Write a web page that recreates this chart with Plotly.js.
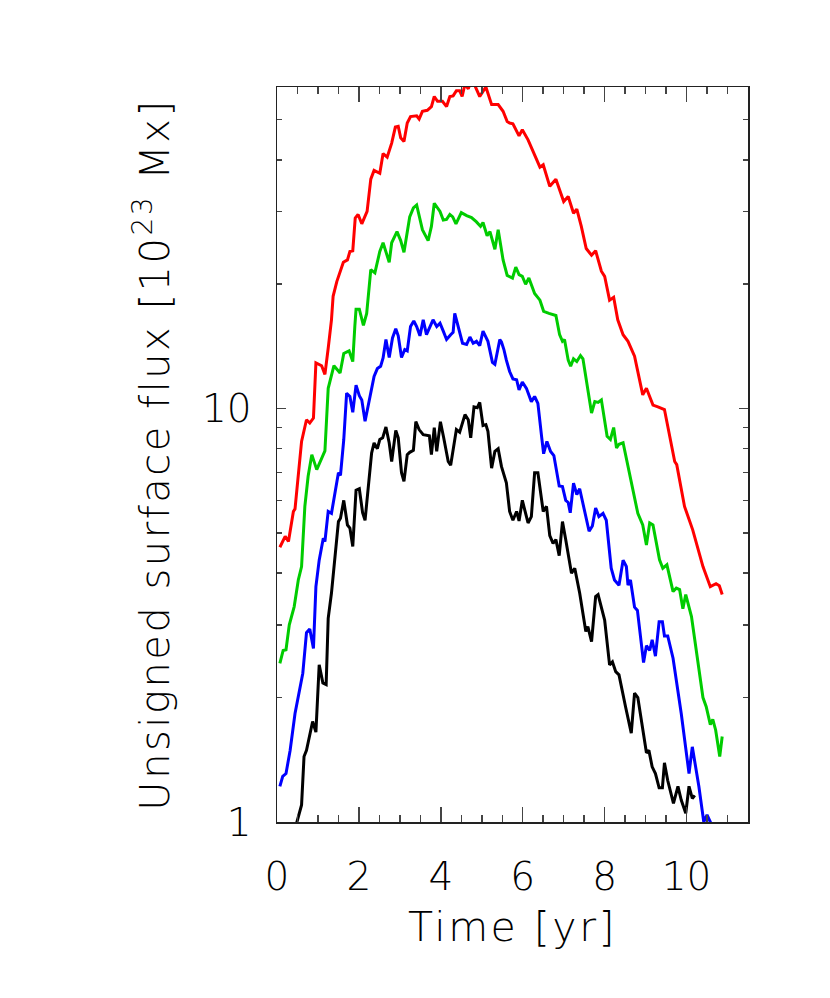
<!DOCTYPE html>
<html>
<head>
<meta charset="utf-8">
<script src="https://cdn.plot.ly/plotly-3.0.1.min.js"></script>
<style>
  body { margin: 0; background: #fff; }
  #chart { width: 830px; height: 998px; }
  #chart .xtitle, #chart .ytitle { letter-spacing: 2.5px; }
</style>
</head>
<body>
<div id="chart"></div>
<script>
// [time in yr, unsigned flux in 1e23 Mx]
const redPts = [[0.07,4.62],[0.20,4.91],[0.28,4.77],[0.40,5.64],[0.44,5.72],[0.60,8.33],[0.72,9.40],[0.80,9.23],[0.89,9.49],[0.95,12.9],[1.09,12.7],[1.17,12.1],[1.25,14.0],[1.33,16.4],[1.37,18.7],[1.46,20.3],[1.62,22.6],[1.72,22.9],[1.78,24.0],[1.85,24.1],[1.91,28.9],[1.98,29.5],[2.07,28.0],[2.20,30.0],[2.29,35.9],[2.37,37.7],[2.51,37.1],[2.59,41.4],[2.69,40.6],[2.80,43.9],[2.89,48.0],[2.96,48.2],[3.02,45.2],[3.10,44.3],[3.18,49.1],[3.26,50.9],[3.41,51.1],[3.47,50.2],[3.55,52.4],[3.67,52.7],[3.77,53.8],[3.84,56.9],[3.92,55.4],[4.04,55.4],[4.14,53.8],[4.22,56.9],[4.30,57.1],[4.38,58.8],[4.46,58.8],[4.52,56.9],[4.59,61.0],[4.67,59.4],[4.71,61.0],[4.83,60.5],[4.95,56.9],[5.10,60.0],[5.24,54.4],[5.40,54.4],[5.52,52.4],[5.62,49.5],[5.68,49.1],[5.76,48.9],[5.91,45.7],[5.99,47.3],[6.13,44.7],[6.25,41.9],[6.42,38.4],[6.50,38.9],[6.66,34.5],[6.81,35.9],[6.89,33.9],[7.00,31.7],[7.11,32.6],[7.24,29.7],[7.32,30.4],[7.43,27.6],[7.55,24.4],[7.68,23.5],[7.78,24.1],[7.92,21.5],[8.00,20.9],[8.12,18.3],[8.22,18.6],[8.32,16.4],[8.45,15.1],[8.57,14.55],[8.73,13.4],[8.93,10.8],[9.02,11.2],[9.18,10.2],[9.30,10.1],[9.46,9.95],[9.71,7.45],[9.76,7.32],[9.95,5.80],[10.15,5.09],[10.40,4.15],[10.46,4.0],[10.58,3.71],[10.72,3.77],[10.80,3.73],[10.87,3.55]];

const greenPts = [[0.07,2.42],[0.15,2.60],[0.22,2.61],[0.30,3.0],[0.42,3.32],[0.52,3.85],[0.60,4.15],[0.68,5.80],[0.76,6.86],[0.85,7.74],[0.97,7.12],[1.09,7.6],[1.17,7.9],[1.25,11.2],[1.39,12.7],[1.54,12.2],[1.63,13.6],[1.76,13.8],[1.85,13.0],[1.90,15.8],[1.93,17.4],[2.01,17.4],[2.11,15.9],[2.19,17.0],[2.29,21.7],[2.39,21.3],[2.51,24.0],[2.59,25.2],[2.74,22.6],[2.80,25.2],[2.93,26.8],[3.02,25.5],[3.10,23.9],[3.24,29.1],[3.33,30.6],[3.41,31.1],[3.55,27.1],[3.69,25.5],[3.77,27.6],[3.84,31.4],[3.98,30.0],[4.06,28.6],[4.14,28.7],[4.22,29.5],[4.29,29.1],[4.37,28.0],[4.50,29.8],[4.63,29.3],[4.75,29.0],[4.87,28.3],[4.97,27.6],[5.03,28.2],[5.13,26.2],[5.20,26.8],[5.32,24.3],[5.40,27.1],[5.52,22.9],[5.62,21.0],[5.75,20.7],[5.83,22.0],[5.91,21.1],[5.99,20.9],[6.07,20.0],[6.15,20.7],[6.29,19.0],[6.42,18.3],[6.51,17.2],[6.64,17.0],[6.81,16.8],[6.90,15.1],[6.97,14.55],[7.02,14.7],[7.11,13.1],[7.17,12.66],[7.24,13.2],[7.32,13.0],[7.41,13.44],[7.47,13.2],[7.57,11.3],[7.68,9.76],[7.76,10.4],[7.84,10.35],[7.92,10.5],[8.06,8.57],[8.14,8.42],[8.22,9.0],[8.29,8.03],[8.35,8.2],[8.45,8.27],[8.61,7.0],[8.81,5.58],[8.93,5.23],[9.02,4.68],[9.10,5.29],[9.18,5.23],[9.34,4.31],[9.42,4.11],[9.52,4.19],[9.67,3.61],[9.75,3.68],[9.83,3.65],[9.91,3.28],[9.98,3.55],[10.12,3.14],[10.24,2.56],[10.40,2.0],[10.48,1.90],[10.58,1.72],[10.64,1.77],[10.71,1.67],[10.81,1.44],[10.87,1.61]];

const bluePts = [[0.07,1.22],[0.14,1.29],[0.22,1.31],[0.32,1.49],[0.44,1.83],[0.52,2.0],[0.63,2.29],[0.72,2.87],[0.80,2.93],[0.89,2.63],[0.95,3.71],[1.03,4.3],[1.13,4.86],[1.17,4.77],[1.25,5.64],[1.33,5.58],[1.42,6.25],[1.50,7.0],[1.55,6.9],[1.63,8.41],[1.70,10.9],[1.78,10.7],[1.85,9.8],[1.93,11.4],[2.01,10.75],[2.07,10.5],[2.15,9.32],[2.27,10.6],[2.37,11.97],[2.45,12.5],[2.53,12.66],[2.59,13.27],[2.66,14.7],[2.74,13.3],[2.82,14.83],[2.90,15.6],[2.96,15.0],[3.04,13.3],[3.12,13.9],[3.18,13.8],[3.26,15.8],[3.34,16.3],[3.41,15.8],[3.49,15.0],[3.57,16.4],[3.65,15.1],[3.73,15.8],[3.81,16.4],[3.90,15.8],[3.98,16.1],[4.06,15.4],[4.14,14.7],[4.24,15.1],[4.30,15.3],[4.34,17.0],[4.45,15.3],[4.53,14.4],[4.63,14.3],[4.71,14.9],[4.79,14.4],[4.87,14.55],[4.95,14.2],[5.03,15.4],[5.15,14.55],[5.26,12.94],[5.32,12.8],[5.44,14.7],[5.48,14.5],[5.54,13.9],[5.60,13.1],[5.68,12.3],[5.76,11.8],[5.85,11.75],[5.91,11.1],[5.99,11.6],[6.09,11.2],[6.21,10.4],[6.29,10.7],[6.37,10.3],[6.46,8.57],[6.51,7.78],[6.59,8.33],[6.68,7.88],[6.76,7.7],[6.89,6.5],[6.97,6.48],[7.05,6.0],[7.11,5.93],[7.16,5.6],[7.24,6.6],[7.32,6.2],[7.39,6.4],[7.49,5.8],[7.62,5.05],[7.70,5.2],[7.78,5.75],[7.86,5.48],[7.96,5.58],[8.04,5.37],[8.16,4.11],[8.24,3.85],[8.35,3.74],[8.45,4.3],[8.53,4.15],[8.57,3.74],[8.63,3.85],[8.73,3.31],[8.80,3.25],[8.95,2.43],[9.02,2.67],[9.10,2.6],[9.16,2.76],[9.24,2.52],[9.33,3.05],[9.41,3.05],[9.46,2.82],[9.54,2.82],[9.67,2.49],[9.87,1.83],[10.06,1.31],[10.14,1.52],[10.30,1.22],[10.42,1.0],[10.50,1.04],[10.58,1.0],[10.62,0.9]];

const blackPts = [[0.40,0.93],[0.48,1.0],[0.60,1.10],[0.66,1.44],[0.72,1.49],[0.87,1.75],[0.95,1.65],[1.03,2.40],[1.12,2.17],[1.20,2.15],[1.25,3.11],[1.33,3.58],[1.40,4.3],[1.50,5.33],[1.55,5.43],[1.63,6.0],[1.72,5.23],[1.78,5.14],[1.85,4.64],[1.93,6.35],[2.01,6.4],[2.09,5.6],[2.15,5.37],[2.23,6.42],[2.31,7.81],[2.37,8.26],[2.45,8.0],[2.51,8.42],[2.58,8.5],[2.66,9.03],[2.74,8.26],[2.80,7.45],[2.90,8.86],[2.96,8.5],[3.04,7.0],[3.10,6.67],[3.18,7.74],[3.24,7.84],[3.33,7.93],[3.39,9.3],[3.47,8.9],[3.57,8.65],[3.72,8.6],[3.77,7.74],[3.84,9.0],[3.90,7.88],[3.99,9.3],[4.07,8.5],[4.18,7.45],[4.24,7.3],[4.30,7.96],[4.38,8.9],[4.46,8.77],[4.59,9.67],[4.67,9.4],[4.73,8.5],[4.81,10.1],[4.89,10.05],[4.95,10.35],[5.03,9.1],[5.10,9.15],[5.15,8.82],[5.24,7.18],[5.32,7.88],[5.40,8.0],[5.48,7.25],[5.60,6.62],[5.68,5.64],[5.76,5.37],[5.85,5.64],[5.91,5.35],[5.99,6.0],[6.05,5.68],[6.13,5.29],[6.21,5.48],[6.29,7.0],[6.37,7.0],[6.50,5.64],[6.58,5.8],[6.66,4.93],[6.74,4.72],[6.81,4.82],[6.89,4.41],[6.97,5.33],[7.05,4.82],[7.16,4.11],[7.19,4.0],[7.27,4.11],[7.39,3.58],[7.54,2.89],[7.59,2.97],[7.68,2.73],[7.78,3.51],[7.84,3.55],[8.00,3.08],[8.12,2.40],[8.19,2.44],[8.27,2.31],[8.35,2.27],[8.51,1.90],[8.65,1.64],[8.73,2.05],[8.81,2.0],[9.02,1.47],[9.08,1.49],[9.16,1.36],[9.24,1.31],[9.33,1.21],[9.41,1.21],[9.46,1.39],[9.54,1.26],[9.68,1.11],[9.79,1.22],[9.87,1.13],[9.98,1.05],[10.06,1.22],[10.14,1.14],[10.20,1.16]];

const xTicks = [0, 2, 4, 6, 8, 10];
const yTicks = [1, 10];
const yMinorTicks = [2, 3, 4, 5, 6, 7, 8, 9, 20, 30, 40, 50, 60];

const FONT = 'DejaVu Sans, sans-serif';

function makeTrace(pts, color) {
    return {
        x: pts.map(p => p[0]),
        y: pts.map(p => p[1]),
        type: 'scatter',
        mode: 'lines',
        line: { color: color, width: 3 },
        hoverinfo: 'skip'
    };
}

const data = [
    makeTrace(redPts, '#ff0000'),
    makeTrace(greenPts, '#00cc00'),
    makeTrace(bluePts, '#0000ff'),
    makeTrace(blackPts, '#000000')
];

const frame = {
    showline: true,
    linecolor: '#222',
    linewidth: 1.5,
    mirror: 'ticks',
    ticks: 'inside',
    tickwidth: 1.5,
    tickcolor: '#444',
    showgrid: false,
    zeroline: false
};

const layout = {
    width: 830,
    height: 998,
    margin: { l: 277, r: 82, t: 87, b: 176 },
    paper_bgcolor: '#fff',
    plot_bgcolor: '#fff',
    showlegend: false,
    font: { family: FONT, color: '#000', size: 39, weight: 200 },
    xaxis: {
        ...frame,
        range: [0, 11.5],
        tickmode: 'array',
        tickvals: xTicks,
        ticktext: xTicks.map(String),
        ticklen: 15,
        ticklabelstandoff: 20,
        minor: { dtick: 0.5, tick0: 0, ticks: 'inside', ticklen: 7, tickwidth: 1.5, tickcolor: '#444', showgrid: false },
        title: { text: 'Time [yr]', font: { size: 41, weight: 200 }, standoff: 14 }
    },
    yaxis: {
        ...frame,
        type: 'log',
        range: [0, Math.log10(60)],
        tickmode: 'array',
        tickvals: yTicks,
        ticktext: yTicks.map(String),
        ticklen: 9,
        ticklabelstandoff: 16,
        minor: { tickmode: 'array', tickvals: yMinorTicks, ticks: 'inside', ticklen: 5, tickwidth: 1.5, tickcolor: '#444', showgrid: false },
        title: { text: 'Unsigned surface flux [10<sup>23</sup> Mx]\u00A0', font: { size: 40, weight: 200 }, standoff: 20 }
    }
};

Plotly.newPlot('chart', data, layout, { displayModeBar: false, staticPlot: true });
</script>
</body>
</html>
